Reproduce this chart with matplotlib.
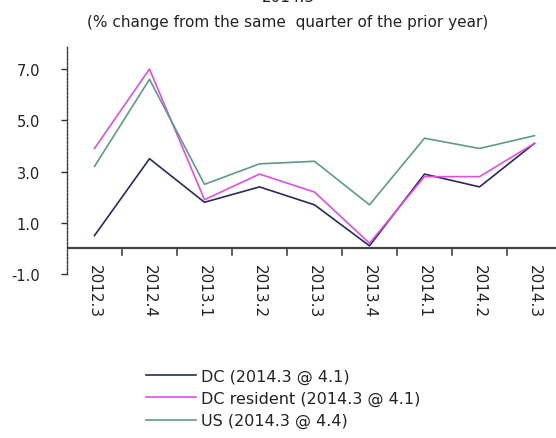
import matplotlib.pyplot as plt
import numpy as np

# quarterly growth, % change from same quarter of prior year
quarters = ['2012.3', '2012.4', '2013.1', '2013.2', '2013.3',
            '2013.4', '2014.1', '2014.2', '2014.3']
dc = [0.5, 3.5, 1.8, 2.4, 1.7, 0.1, 2.9, 2.4, 4.1]
dc_resident = [3.9, 7.0, 1.9, 2.9, 2.2, 0.2, 2.8, 2.8, 4.1]
us = [3.2, 6.6, 2.5, 3.3, 3.4, 1.7, 4.3, 3.9, 4.4]
yticks = [7.0, 5.0, 3.0, 1.0, -1.0]

plt.rcParams['font.family'] = ['DejaVu Sans']

fig = plt.figure(figsize=(5.56, 4.39), dpi=100)
# axes from x=67..562 px, y=47..275 px (top-down)
ax = fig.add_axes([67 / 556, 1 - 275 / 439, 495 / 556, 228 / 439])

x = np.arange(len(quarters))
ax.plot(x, dc, color='#2a2a5c', lw=1.2, label='DC (2014.3 @ 4.1)')
ax.plot(x, dc_resident, color='#e050e0', lw=1.2, label='DC resident (2014.3 @ 4.1)')
ax.plot(x, us, color='#5f9a88', lw=1.2, label='US (2014.3 @ 4.4)')

ax.set_xlim(-0.5, len(quarters) - 0.5)
ax.set_ylim(-1.0, 7.9)

for s in ['top', 'right', 'bottom']:
    ax.spines[s].set_visible(False)
ax.spines['left'].set_linestyle((0, (1.5, 1.2)))
ax.spines['left'].set_color('#333333')
ax.spines['left'].set_linewidth(1.0)

# category axis sits at zero with ticks between the quarters
ax.axhline(0, color='#444444', lw=1.6, zorder=1)
for b in np.arange(0.5, len(quarters) - 0.5):
    ax.plot([b, b], [0, -0.25], color='#444444', lw=1.2, clip_on=False)

ax.set_yticks(yticks)
ax.set_yticklabels([f'{v:.1f}' for v in yticks], fontsize=10.5, color='#222222')
ax.tick_params(axis='y', length=4.5, width=1, color='#333333', pad=15)

ax.set_xticks(x)
ax.set_xticklabels([])
ax.tick_params(axis='x', length=0)
for xi, q in zip(x, quarters):
    ax.text(xi, -0.6, q, rotation=-90, ha='center', va='top',
            fontsize=11, color='#222222')

fig.text(0.518, 1.006, '2014.3', ha='center', va='center', fontsize=11,
         color='#222222')
fig.text(0.518, 0.948, '(% change from the same  quarter of the prior year)',
         ha='center', va='center', fontsize=11, color='#222222')

fig.legend(loc='upper left', bbox_to_anchor=(140 / 556, 1 - 363 / 439),
           frameon=False, fontsize=11.5, handlelength=3.1, handletextpad=0.3,
           labelspacing=0.45, borderaxespad=0, labelcolor='#222222')

fig.savefig('out.png', dpi=100)
